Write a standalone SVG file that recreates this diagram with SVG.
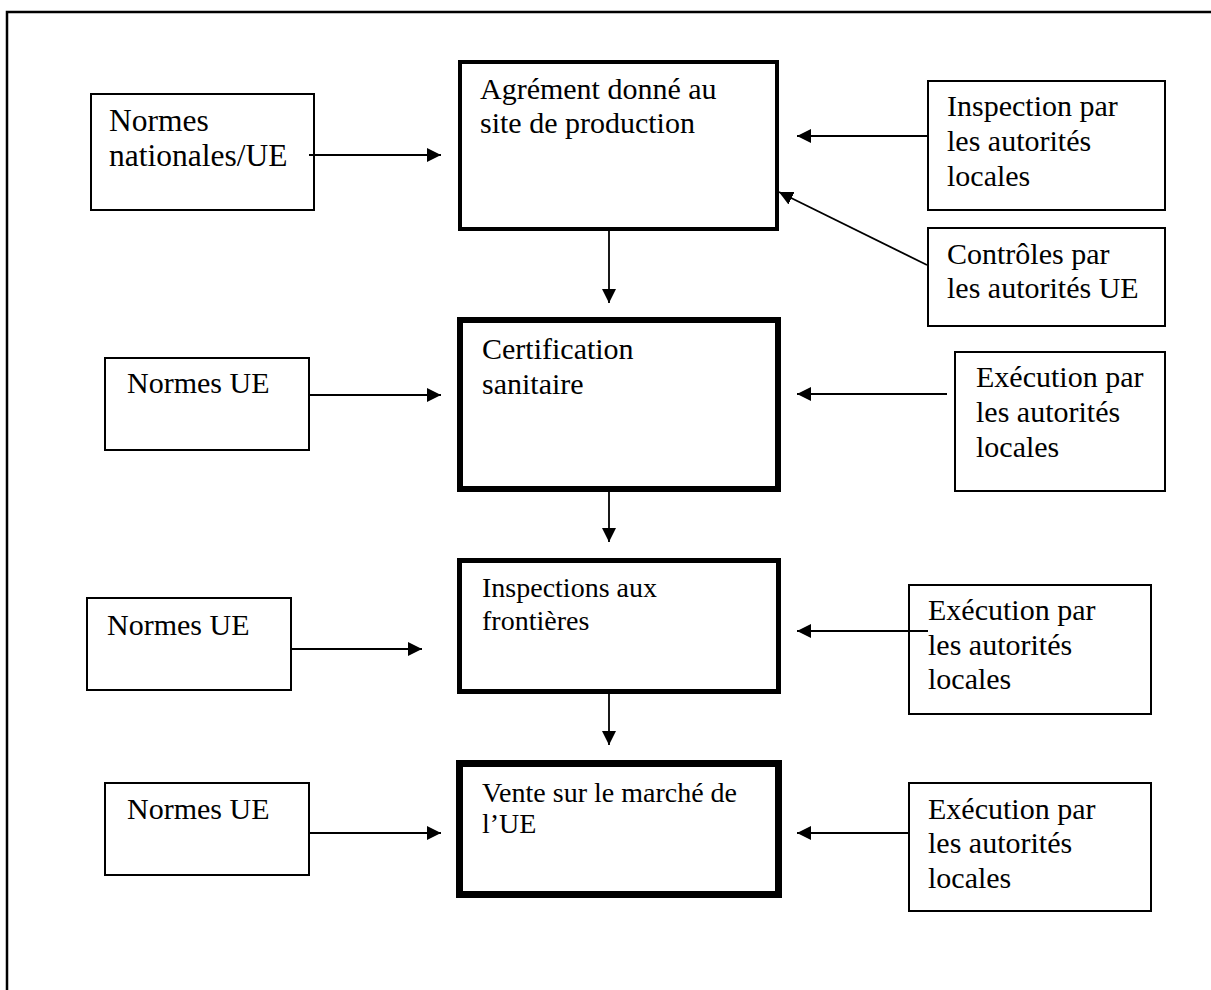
<svg xmlns="http://www.w3.org/2000/svg" width="1211" height="990" viewBox="0 0 1211 990">
<style>
.bg{fill:#fff}
.side{fill:#fff;stroke:#000;stroke-width:2}
.main{fill:#fff;stroke:#000}
text{font-family:"Liberation Serif","Times New Roman",serif;font-size:30px;fill:#000}
.sm{font-size:28px}
.lg{font-size:31.5px}
.con line{stroke:#000;stroke-width:1.8;marker-end:url(#ah)}
</style>
<defs>
<marker id="ah" markerUnits="userSpaceOnUse" markerWidth="15" markerHeight="15" refX="14" refY="7" orient="auto">
<path d="M0,0 L14,7 L0,14 z" fill="#000"/>
</marker>
</defs>
<rect class="bg" x="0" y="0" width="1211" height="990"/>
<path d="M7,995 V12 H1215" fill="none" stroke="#000" stroke-width="2.5"/>

<g id="n-normes-nat"><rect class="side" x="91" y="94" width="223" height="116"/><text class="lg" x="109" y="131">Normes</text><text class="lg" x="109" y="166">nationales/UE</text></g>
<g id="n-agrement"><rect class="main" stroke-width="4" x="460" y="62" width="317" height="167"/><text x="480" y="99">Agrément donné au</text><text x="480" y="133">site de production</text></g>
<g id="n-inspection-locales"><rect class="side" x="928" y="81" width="237" height="129"/><text x="947" y="116">Inspection par</text><text x="947" y="151">les autorités</text><text x="947" y="186">locales</text></g>
<g id="n-controles-ue"><rect class="side" x="928" y="228" width="237" height="98"/><text x="947" y="264">Contrôles par</text><text x="947" y="298">les autorités UE</text></g>

<g id="n-normes-ue-1"><rect class="side" x="105" y="358" width="204" height="92"/><text x="127" y="393">Normes UE</text></g>
<g id="n-certification"><rect class="main" stroke-width="6" x="460" y="320" width="318" height="169"/><text x="482" y="359">Certification</text><text x="482" y="394">sanitaire</text></g>
<g id="n-execution-1"><rect class="side" x="955" y="352" width="210" height="139"/><text x="976" y="387">Exécution par</text><text x="976" y="422">les autorités</text><text x="976" y="457">locales</text></g>

<g id="n-normes-ue-2"><rect class="side" x="87" y="598" width="204" height="92"/><text x="107" y="635">Normes UE</text></g>
<g id="n-inspections-frontieres"><rect class="main" stroke-width="5" x="459.5" y="560.5" width="319" height="131"/><text class="sm" x="482" y="597">Inspections aux</text><text class="sm" x="482" y="630">frontières</text></g>
<g id="n-execution-2"><rect class="side" x="909" y="585" width="242" height="129"/><text x="928" y="620">Exécution par</text><text x="928" y="655">les autorités</text><text x="928" y="689">locales</text></g>

<g id="n-normes-ue-3"><rect class="side" x="105" y="783" width="204" height="92"/><text x="127" y="819">Normes UE</text></g>
<g id="n-vente"><rect class="main" stroke-width="7" x="459.5" y="763.5" width="319" height="131"/><text class="sm" x="482" y="802">Vente sur le marché de</text><text class="sm" x="482" y="833">l’UE</text></g>
<g id="n-execution-3"><rect class="side" x="909" y="783" width="242" height="128"/><text x="928" y="819">Exécution par</text><text x="928" y="853">les autorités</text><text x="928" y="888">locales</text></g>

<g id="connectors" class="con">
<line x1="309" y1="155" x2="441" y2="155"/>
<line x1="927" y1="136" x2="797" y2="136"/>
<line x1="927" y1="265" x2="779" y2="192"/>
<line x1="609" y1="231" x2="609" y2="303"/>
<line x1="310" y1="395" x2="441" y2="395"/>
<line x1="947" y1="394" x2="797" y2="394"/>
<line x1="609" y1="492" x2="609" y2="542"/>
<line x1="292" y1="649" x2="422" y2="649"/>
<line x1="928" y1="631" x2="797" y2="631"/>
<line x1="609" y1="694" x2="609" y2="745"/>
<line x1="310" y1="833" x2="441" y2="833"/>
<line x1="908" y1="833" x2="797" y2="833"/>
</g>
</svg>
